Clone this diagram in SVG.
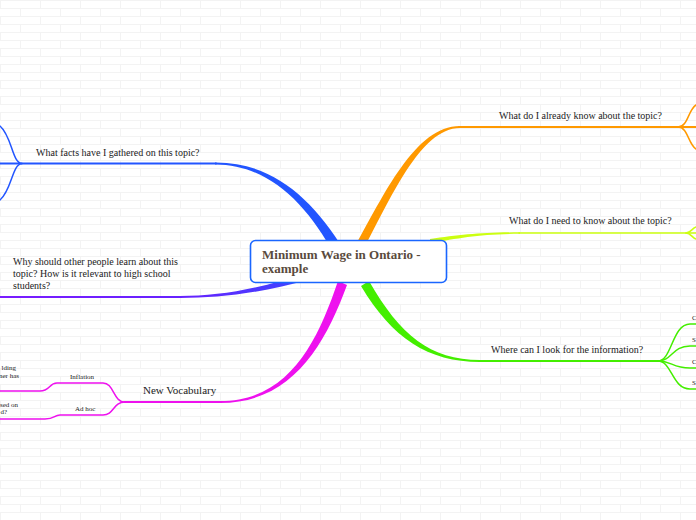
<svg xmlns="http://www.w3.org/2000/svg" width="696" height="520" viewBox="0 0 696 520">
<defs>
<pattern id="brick" width="40" height="16" patternUnits="userSpaceOnUse">
<path d="M0 0.5H40M0 8.5H40M0.5 0V8M20.5 8V16" fill="none" stroke="#f3f3f3" stroke-width="1"/>
</pattern>
<linearGradient id="pg" gradientUnits="userSpaceOnUse" x1="0" y1="0" x2="312" y2="0">
<stop offset="0" stop-color="#7a1cff"/>
<stop offset="0.6" stop-color="#6622ff"/>
<stop offset="1" stop-color="#3a48ff"/>
</linearGradient>
</defs>
<style>
.t{font-family:"Liberation Serif","Times New Roman",serif;font-size:10px;fill:#222}
.s{font-family:"Liberation Serif","Times New Roman",serif;font-size:7px;fill:#222}
.c{font-family:"Liberation Serif","Times New Roman",serif;font-size:13px;font-weight:bold;fill:#5a4b3d}
.ln{fill:none;stroke-linecap:round}
</style>
<rect width="696" height="520" fill="#ffffff"/>
<rect width="696" height="520" fill="url(#brick)"/>
<g id="connectors">
<g fill="#2255ff" stroke="none">
<path d="M215 162.5C272 162 312 198 344 250L334 254C306 203 268 164.5 215 164.5Z"/>
</g>
<g class="ln" stroke="#2255ff" stroke-width="2">
<path d="M0 163.5H216"/>
<path d="M22 163.5C12 163 12 136 0 126" stroke-width="1.5"/>
<path d="M22 163.5C12 164 12 190 0 200" stroke-width="1.5"/>
</g>
<path d="M460 126C415 126 384 195 354 248L362 252C390 200 420 128 460 128Z" fill="#ff9900"/>
<g class="ln" stroke="#ff9900" stroke-width="2">
<path d="M459 127H696"/>
<path d="M678 127C688 127 688 110 696 105" stroke-width="1.5"/>
<path d="M678 127C688 127 688 144 696 149" stroke-width="1.5"/>
</g>
<path d="M520 232.3C480 232.3 460 235 430 239L430 243C460 238 480 233.8 520 233.8Z" fill="#ccff11"/>
<g class="ln" stroke="#ccff11" stroke-width="1.5">
<path d="M519 233H696"/>
<path d="M686 233C691 233 692 228 696 227"/>
<path d="M686 233C691 233 692 238 696 239"/>
</g>
<path d="M480 360C430 360 400 335 369 281L361 286C392 338 428 362 480 362Z" fill="#44ee00"/>
<g class="ln" stroke="#44ee00" stroke-width="1.5">
<path d="M479 361H658" stroke-width="2"/>
<path d="M658 361C672 361 672 324 690 324H696"/>
<path d="M658 361C672 361 672 346 690 346H696"/>
<path d="M658 361C672 361 672 368 690 368H696"/>
<path d="M658 361C672 361 672 389 690 389H696"/>
</g>
<path d="M180 296C220 296 260 289 309 272L311 279C262 293 220 298 180 298Z" fill="url(#pg)"/>
<path d="M0 297H181" class="ln" stroke="url(#pg)" stroke-width="2"/>
<path d="M220 401C290 401 318 340 338 281L347 285C325 345 292 403 220 403Z" fill="#ee11ee"/>
<g class="ln" stroke="#ee11ee" stroke-width="1.5">
<path d="M125 402H221" stroke-width="2"/>
<path d="M125 402C113 402 114 383 103 383H57C49 383 50 391 40 391H0"/>
<path d="M125 402C113 402 114 415 103 415H60C54 415 55 419 45 419H0"/>
</g>
</g>
<g id="center">
<rect x="250.5" y="240.5" width="196" height="42" rx="5" fill="#ffffff" stroke="#1a66ff" stroke-width="1.6"/>
<text class="c" x="262" y="259">Minimum Wage in Ontario -</text>
<text class="c" x="262" y="273">example</text>
</g>
<g id="facts"><text class="t" x="36" y="156">What facts have I gathered on this topic?</text></g>
<g id="know"><text class="t" x="499" y="119">What do I already know about the topic?</text></g>
<g id="need"><text class="t" x="509" y="224">What do I need to know about the topic?</text></g>
<g id="where"><text class="t" x="491" y="353">Where can I look for the information?</text></g>
<g id="why">
<text class="t" x="13" y="265">Why should other people learn about this</text>
<text class="t" x="13" y="277">topic? How is it relevant to high school</text>
<text class="t" x="13" y="289">students?</text>
</g>
<g id="vocab"><text class="t" x="143" y="394" style="font-size:11px">New Vocabulary</text></g>
<g id="inflation"><text class="s" x="70" y="379">Inflation</text></g>
<g id="adhoc"><text class="s" x="75" y="411">Ad hoc</text></g>
<g id="inflation-def">
<text class="s" x="16" y="370" text-anchor="end">lding</text>
<text class="s" x="19" y="378" text-anchor="end">ner has</text>
</g>
<g id="adhoc-def">
<text class="s" x="18" y="407" text-anchor="end">sed on</text>
<text class="s" x="7" y="414" text-anchor="end">d?</text>
</g>
<g id="where-children">
<text class="s" x="692" y="320">C</text>
<text class="s" x="692" y="342">S</text>
<text class="s" x="692" y="364">C</text>
<text class="s" x="692" y="385">S</text>
</g>
</svg>
